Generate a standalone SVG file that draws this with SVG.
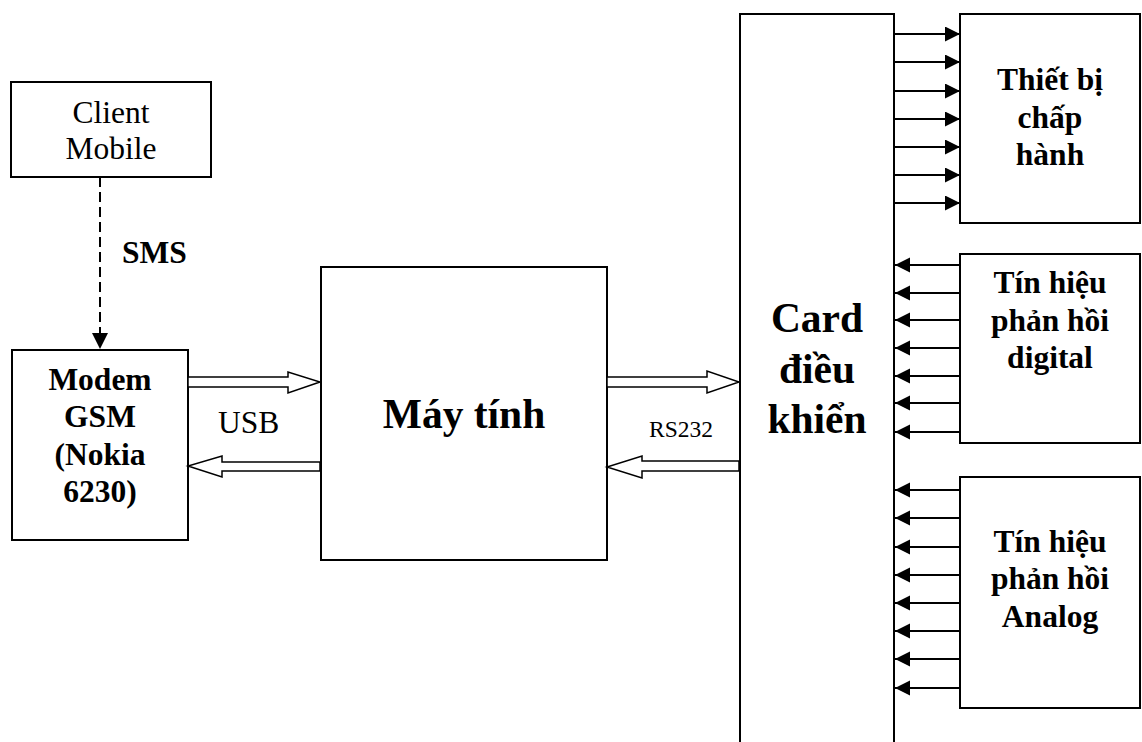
<svg xmlns="http://www.w3.org/2000/svg" width="1142" height="742" viewBox="0 0 1142 742">
<style>
.box{fill:#fff;stroke:#000;stroke-width:2}
.t{font-family:"Liberation Serif","Times New Roman",serif;fill:#000}
.r{font-size:31.5px}
.b{font-size:31.5px;font-weight:bold}
.big{font-size:41.5px;font-weight:bold}
.c{text-anchor:middle}
.ln{stroke:#000;stroke-width:2;fill:none}
.blk{fill:#fff;stroke:#000;stroke-width:1.5;stroke-linejoin:miter}
</style>
<defs>
<marker id="ah" markerUnits="userSpaceOnUse" markerWidth="16" markerHeight="16" refX="15" refY="7.5" orient="auto">
<path d="M0,0 L15,7.5 L0,15 z" fill="#000"/>
</marker>
</defs>
<rect width="1142" height="742" fill="#fff"/>

<g id="client-mobile">
<rect class="box" x="11" y="82" width="200" height="95"/>
<text class="t r c" x="111" y="123">Client</text>
<text class="t r c" x="111" y="159">Mobile</text>
</g>

<g id="modem">
<rect class="box" x="12" y="350" width="176" height="190"/>
<text class="t b c" x="100" y="390">Modem</text>
<text class="t b c" x="100" y="427">GSM</text>
<text class="t b c" x="100" y="465">(Nokia</text>
<text class="t b c" x="100" y="502">6230)</text>
</g>

<g id="may-tinh">
<rect class="box" x="321" y="267" width="286" height="293"/>
<text class="t big c" x="464" y="428">Máy tính</text>
</g>

<g id="card">
<path class="ln" d="M740,745 L740,14 L894,14 L894,745"/>
<text class="t big c" x="817" y="332">Card</text>
<text class="t big c" x="817" y="383">điều</text>
<text class="t big c" x="817" y="433">khiển</text>
</g>

<g id="thiet-bi">
<rect class="box" x="960" y="14" width="180" height="209"/>
<text class="t b c" x="1050" y="90">Thiết bị</text>
<text class="t b c" x="1050" y="128">chấp</text>
<text class="t b c" x="1050" y="165">hành</text>
</g>

<g id="digital">
<rect class="box" x="960" y="254" width="180" height="189"/>
<text class="t b c" x="1050" y="293">Tín hiệu</text>
<text class="t b c" x="1050" y="331">phản hồi</text>
<text class="t b c" x="1050" y="368">digital</text>
</g>

<g id="analog">
<rect class="box" x="960" y="477" width="180" height="231"/>
<text class="t b c" x="1050" y="552">Tín hiệu</text>
<text class="t b c" x="1050" y="589">phản hồi</text>
<text class="t b c" x="1050" y="627">Analog</text>
</g>

<g id="connectors">
<line class="ln" x1="100" y1="177" x2="100" y2="336" stroke-dasharray="10,5"/>
<path d="M92,333 L108,333 L100,349 z" fill="#000"/>
<text class="t b" x="122" y="263">SMS</text>

<polygon class="blk" points="188,377 288,377 288,372 320,382 288,393 288,387 188,387"/>
<polygon class="blk" points="320,462 222,462 222,456 188,466 222,477 222,471 320,471"/>
<text class="t r" x="218" y="433">USB</text>

<polygon class="blk" points="607,377 707,377 707,371 739,382 707,393 707,387 607,387"/>
<polygon class="blk" points="739,461 642,461 642,456 607,467 642,478 642,471 739,471"/>
<text class="t" x="649" y="437" font-size="23.5">RS232</text>

<g class="ln" marker-end="url(#ah)">
<line x1="894" y1="34" x2="960" y2="34"/>
<line x1="894" y1="62" x2="960" y2="62"/>
<line x1="894" y1="91" x2="960" y2="91"/>
<line x1="894" y1="119" x2="960" y2="119"/>
<line x1="894" y1="147" x2="960" y2="147"/>
<line x1="894" y1="175" x2="960" y2="175"/>
<line x1="894" y1="203" x2="960" y2="203"/>

<line x1="960" y1="265" x2="895" y2="265"/>
<line x1="960" y1="293" x2="895" y2="293"/>
<line x1="960" y1="320" x2="895" y2="320"/>
<line x1="960" y1="348" x2="895" y2="348"/>
<line x1="960" y1="376" x2="895" y2="376"/>
<line x1="960" y1="403" x2="895" y2="403"/>
<line x1="960" y1="432" x2="895" y2="432"/>

<line x1="960" y1="490" x2="895" y2="490"/>
<line x1="960" y1="518" x2="895" y2="518"/>
<line x1="960" y1="547" x2="895" y2="547"/>
<line x1="960" y1="575" x2="895" y2="575"/>
<line x1="960" y1="603" x2="895" y2="603"/>
<line x1="960" y1="631" x2="895" y2="631"/>
<line x1="960" y1="659" x2="895" y2="659"/>
<line x1="960" y1="688" x2="895" y2="688"/>
</g>
</g>
</svg>
